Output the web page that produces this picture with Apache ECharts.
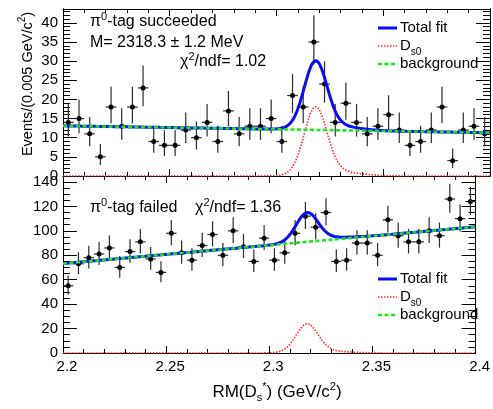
<!DOCTYPE html>
<html>
<head>
<meta charset="utf-8">
<script src="https://cdn.jsdelivr.net/npm/echarts@6/dist/echarts.min.js"></script>
<style>
  html, body { margin: 0; padding: 0; background: #ffffff; }
  #chart { width: 493px; height: 409px; }
</style>
</head>
<body>
<div id="chart"></div>
<script>
// Recoil-mass bins (GeV/c^2), width 0.005
const binCenters = [
  2.2025, 2.2075, 2.2125, 2.2175, 2.2225, 2.2275, 2.2325, 2.2375, 2.2425, 2.2475,
  2.2525, 2.2575, 2.2625, 2.2675, 2.2725, 2.2775, 2.2825, 2.2875, 2.2925, 2.2975,
  2.3025, 2.3075, 2.3125, 2.3175, 2.3225, 2.3275, 2.3325, 2.3375, 2.3425, 2.3475,
  2.3525, 2.3575, 2.3625, 2.3675, 2.3725, 2.3775, 2.3825, 2.3875, 2.3925, 2.3975
];
const halfBin = 0.0025;

// Events per bin, pi0-tag succeeded
const countsTagged = [
  14, 15, 11, 5, 18, 13, 18, 23, 9, 8,
  8, 12, 10, 14, 9, 17, 11, 13, 13, 15,
  9, 21, 18, 35, 24, 14, 19, 14, 11, 13,
  16, 12, 8, 9, 12, 18, 4, 12, 13, 11
];
// Events per bin, pi0-tag failed
const countsUntagged = [
  55, 73, 78, 81, 86, 70, 83, 91, 77, 66,
  98, 82, 76, 88, 97, 80, 100, 87, 75, 94,
  76, 82, 98, 112, 103, 115, 75, 76, 90, 90,
  80, 109, 96, 91, 91, 100, 96, 126, 110, 124
];

// Axis ticks
const xRange = [2.2, 2.4];
const xTickStep = 0.05;
const yTopMax = 43.6;
const yBottomMax = 144.9;
const yTicksTop = [0, 5, 10, 15, 20, 25, 30, 35, 40];
const yMinorTop = [0,1,2,3,4,5,6,7,8,9,10,11,12,13,14,15,16,17,18,19,20,21,22,23,24,25,26,27,28,29,30,31,32,33,34,35,36,37,38,39,40,41,42,43];
const yTicksBottom = [0, 20, 40, 60, 80, 100, 120, 140];
const yMinorBottom = [0,5,10,15,20,25,30,35,40,45,50,55,60,65,70,75,80,85,90,95,100,105,110,115,120,125,130,135,140];

// Fit results
const massPeak = 2.3183;          // M = 2318.3 MeV
const coreSigma = 0.0053;
const tailFrac = 0.07, tailShift = 0.008, tailSigma = 0.011;
const bkgTagged = [13.1, 11.3];   // linear background at 2.2 and 2.4
const bkgUntagged = [73.2, 103.3];
const sigPeakTagged = 18.1;
const sigPeakUntagged = 24.0;

const FONT = "'Liberation Sans', Arial, Helvetica, sans-serif";

// ---- helpers ----
function poissonLow(n) {
  if (n <= 0) return 0;
  return n * Math.pow(1 - 1 / (9 * n) - 1 / (3 * Math.sqrt(n)), 3);
}
function poissonHigh(n) {
  const m = n + 1;
  return m * Math.pow(1 - 1 / (9 * m) + 1 / (3 * Math.sqrt(m)), 3);
}
function pointsData(counts) {
  return counts.map((n, i) => [binCenters[i], n, poissonLow(n), poissonHigh(n)]);
}
function signalShape(x) {
  const a = (x - massPeak) / coreSigma;
  const b = (x - massPeak - tailShift) / tailSigma;
  return Math.exp(-0.5 * a * a) + tailFrac * Math.exp(-0.5 * b * b);
}
const xs = [];
for (let k = 0; k <= 800; k++) xs.push(xRange[0] + (xRange[1] - xRange[0]) * k / 800);
const shapeMax = Math.max.apply(null, xs.map(signalShape));

function bkg(p, x) { return p[0] + (p[1] - p[0]) * (x - xRange[0]) / (xRange[1] - xRange[0]); }
function curves(bp, peak) {
  const sig = xs.map(x => [x, peak * signalShape(x) / shapeMax]);
  const bk = xs.map(x => [x, bkg(bp, x)]);
  const tot = xs.map((x, i) => [x, bk[i][1] + sig[i][1]]);
  return { sig, bk, tot };
}
const cTop = curves(bkgTagged, sigPeakTagged);
const cBot = curves(bkgUntagged, sigPeakUntagged);

function renderPoint(params, api) {
  const x = api.value(0), y = api.value(1), lo = api.value(2), hi = api.value(3);
  const c = api.coord([x, y]);
  const cLo = api.coord([x, lo]);
  const cHi = api.coord([x, hi]);
  const cL = api.coord([x - halfBin, y]);
  const cR = api.coord([x + halfBin, y]);
  const st = { stroke: '#2b2b2b', lineWidth: 1.2 };
  return {
    type: 'group',
    children: [
      { type: 'line', shape: { x1: c[0], y1: cLo[1], x2: c[0], y2: cHi[1] }, style: st },
      { type: 'line', shape: { x1: cL[0], y1: c[1], x2: cR[0], y2: c[1] }, style: st },
      { type: 'circle', shape: { cx: c[0], cy: c[1], r: 2.5 }, style: { fill: '#000' } }
    ]
  };
}

// ---- axes ----
const black = { color: '#000', width: 1 };
function xAxisDef(grid, pos, labels) {
  return {
    type: 'value', gridIndex: grid, position: pos,
    min: xRange[0], max: xRange[1], interval: xTickStep,
    axisLine: { show: true, onZero: false, lineStyle: black },
    axisTick: { show: true, inside: true, length: 7, lineStyle: black },
    minorTick: { show: true, splitNumber: 5, length: 4, lineStyle: black },
    splitLine: { show: false },
    axisLabel: labels
      ? { show: true, fontSize: 15, fontFamily: FONT, color: '#000', margin: 6, padding: [0, 0, 0, 8] }
      : { show: false }
  };
}
function yAxisDef(grid, pos, max, ticks, len, labels) {
  return {
    type: 'value', gridIndex: grid, position: pos,
    min: 0, max: max,
    axisLine: { show: true, onZero: false, lineStyle: black },
    axisTick: { show: true, inside: true, length: len, customValues: ticks, lineStyle: black },
    splitLine: { show: false },
    axisLabel: labels
      ? { show: true, customValues: ticks, fontSize: 15, fontFamily: FONT, color: '#000', margin: 5 }
      : { show: false }
  };
}

const xAxes = [
  xAxisDef(0, 'bottom', false),
  xAxisDef(0, 'top', false),
  xAxisDef(1, 'bottom', true),
  xAxisDef(1, 'top', false)
];
const yAxes = [
  yAxisDef(0, 'left', yTopMax, yTicksTop, 14, true),
  yAxisDef(0, 'left', yTopMax, yMinorTop, 7, false),
  yAxisDef(0, 'right', yTopMax, yTicksTop, 14, false),
  yAxisDef(0, 'right', yTopMax, yMinorTop, 7, false),
  yAxisDef(1, 'left', yBottomMax, yTicksBottom, 14, true),
  yAxisDef(1, 'left', yBottomMax, yMinorBottom, 7, false),
  yAxisDef(1, 'right', yBottomMax, yTicksBottom, 14, false),
  yAxisDef(1, 'right', yBottomMax, yMinorBottom, 7, false)
];

// ---- series ----
const BLUE = '#0a0aff', RED = '#ff2a2a', GREEN = '#19e619';
function panelSeries(xi, yi, counts, c) {
  return [
    { type: 'custom', xAxisIndex: xi, yAxisIndex: yi, data: pointsData(counts),
      renderItem: renderPoint, z: 2, silent: true },
    { type: 'line', xAxisIndex: xi, yAxisIndex: yi, data: c.tot, showSymbol: false,
      lineStyle: { color: BLUE, width: 3 }, z: 3, silent: true },
    { type: 'line', xAxisIndex: xi, yAxisIndex: yi, data: c.sig, showSymbol: false,
      lineStyle: { color: RED, width: 1.6, type: [1.5, 1.5] }, z: 4, silent: true },
    { type: 'line', xAxisIndex: xi, yAxisIndex: yi, data: c.bk, showSymbol: false,
      lineStyle: { color: GREEN, width: 2.6, type: [4, 2.5] }, z: 5, silent: true }
  ];
}

// ---- labels and legends ----
const base = { fontSize: 16, fontFamily: FONT, color: '#000', lineHeight: 24, verticalAlign: 'middle' };
const sup = { fontSize: 11, fontFamily: FONT, color: '#000', lineHeight: 24, verticalAlign: 'top', padding: [1, 0, 0, 0] };
const subL = { fontSize: 10, fontFamily: FONT, color: '#000', lineHeight: 24, verticalAlign: 'bottom', padding: [0, 0, 1, 0] };
const legBase = Object.assign({}, base, { fontSize: 15 });

function txt(x, y, text, rich, align) {
  return {
    type: 'text', x: x, y: y, z: 100,
    style: { text: text, rich: rich, textVerticalAlign: 'middle', textAlign: align || 'left', fill: '#000', font: '16px ' + FONT }
  };
}
function legendBlock(x, y0, dy) {
  const els = [];
  const rows = [
    { line: { stroke: BLUE, lineWidth: 3 }, text: '{a|Total fit}' },
    { line: { stroke: RED, lineWidth: 1.6, lineDash: [1.5, 1.5] }, text: '{a|D}{s|s0}' },
    { line: { stroke: GREEN, lineWidth: 2.6, lineDash: [4, 2.5] }, text: '{a|background}' }
  ];
  rows.forEach((r, i) => {
    const y = y0 + i * dy;
    els.push({ type: 'line', z: 100, shape: { x1: x, y1: y, x2: x + 19, y2: y }, style: r.line });
    els.push(txt(x + 22, y, r.text, { a: legBase, s: subL }));
  });
  return els;
}

const titleRich = {
  a: Object.assign({}, base, { fontSize: 17 }),
  s: Object.assign({}, subL, { fontSize: 11 }),
  p: sup
};

const graphics = [
  txt(90, 22, '{a|π}{p|0}{a|-tag succeeded}', { a: base, p: sup }),
  txt(90, 43, '{a|M= 2318.3 ± 1.2 MeV}', { a: base }),
  txt(180, 62, '{a|χ}{p|2}{a|/ndf= 1.02}', { a: base, p: sup }),
  txt(90, 208, '{a|π}{p|0}{a|-tag failed}', { a: base, p: sup }),
  txt(195, 208, '{a|χ}{p|2}{a|/ndf= 1.36}', { a: base, p: sup }),
  // axis titles
  txt(277, 392, '{a|RM(D}{s|s}{p|*}{a|) (GeV/c}{p|2}{a|)}', titleRich, 'center'),
  { type: 'text', x: 28, y: 84, rotation: Math.PI / 2, z: 100,
    style: { text: '{a|Events/(0.005 GeV/c}{p|2}{a|)}',
      rich: { a: Object.assign({}, base, { fontSize: 14.5 }), p: Object.assign({}, sup, { fontSize: 10 }) },
      textAlign: 'center', textVerticalAlign: 'middle' } }
].concat(legendBlock(378, 28, 18)).concat(legendBlock(378, 279, 18));

const chart = echarts.init(document.getElementById('chart'), null, { renderer: 'canvas' });
chart.setOption({
  animation: false,
  backgroundColor: '#ffffff',
  grid: [
    { left: 63, right: 3, top: 9, height: 167, containLabel: false },
    { left: 63, right: 3, top: 176, height: 177, containLabel: false }
  ],
  xAxis: xAxes,
  yAxis: yAxes,
  series: panelSeries(0, 0, countsTagged, cTop).concat(panelSeries(2, 4, countsUntagged, cBot)),
  graphic: graphics
});
</script>
</body>
</html>
